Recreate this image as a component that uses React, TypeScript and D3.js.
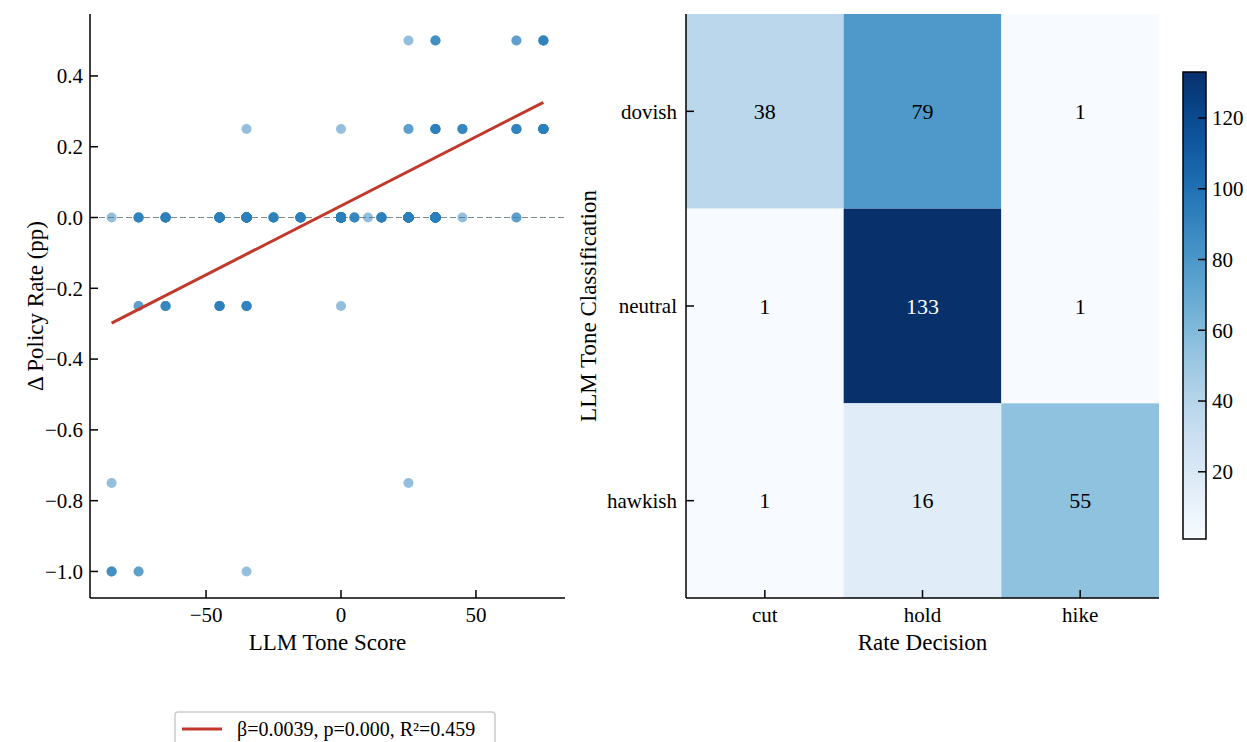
import React from "react";
import * as d3 from "d3";

// ---------- Scatter data (tone score, Δ policy rate, number of overlapping obs) ----------
const toneScores = [
  25, 35, 65, 75,
  -35, 0, 25, 35, 45, 65, 75,
  -85, -75, -65, -45, -35, -25, -15, 0, 5, 10, 15, 25, 35, 45, 65,
  -75, -65, -45, -35, 0,
  -85, 25,
  -85, -75, -35,
];
const rateChanges = [
  0.5, 0.5, 0.5, 0.5,
  0.25, 0.25, 0.25, 0.25, 0.25, 0.25, 0.25,
  0, 0, 0, 0, 0, 0, 0, 0, 0, 0, 0, 0, 0, 0, 0,
  -0.25, -0.25, -0.25, -0.25, -0.25,
  -0.75, -0.75,
  -1.0, -1.0, -1.0,
];
const obsCounts = [
  1, 3, 2, 5,
  1, 1, 2, 6, 4, 5, 12,
  1, 5, 8, 20, 25, 6, 10, 60, 4, 1, 8, 30, 40, 1, 2,
  2, 4, 6, 5, 1,
  1, 1,
  3, 2, 1,
];
const fitSlope = 0.0039;
const fitIntercept = 0.033;
const legendLabel = "β=0.0039, p=0.000, R²=0.459";
const scatterXTicks = [-50, 0, 50];
const scatterYTicks = [-1.0, -0.8, -0.6, -0.4, -0.2, 0.0, 0.2, 0.4];

// ---------- Heatmap data ----------
const rateDecisions = ["cut", "hold", "hike"];
const toneClasses = ["dovish", "neutral", "hawkish"];
const confusion = [
  [38, 79, 1],
  [1, 133, 1],
  [1, 16, 55],
];
const colorbarTicks = [20, 40, 60, 80, 100, 120];

const FONT = "'Liberation Serif', 'Times New Roman', Times, serif";
const TICK_FS = 21;
const LABEL_FS = 23;

export default function App() {
  // scatter geometry
  const sL = 90, sR = 565, sT = 14, sB = 598;
  const xs = d3.scaleLinear().domain([-93, 83]).range([sL, sR]);
  const ys = d3.scaleLinear().domain([-1.075, 0.575]).range([sB, sT]);
  const fmtY = d3.format(".1f");
  const fmtX = d3.format("d");
  const xMin = d3.min(toneScores) as number;
  const xMax = d3.max(toneScores) as number;

  // heatmap geometry
  const hL = 686, hR = 1159, hT = 14, hB = 598;
  const hx = d3.scaleBand().domain(rateDecisions).range([hL, hR]);
  const hy = d3.scaleBand().domain(toneClasses).range([hT, hB]);
  const flat = confusion.flat();
  const vMin = d3.min(flat) as number;
  const vMax = d3.max(flat) as number;
  const color = d3.scaleSequential(d3.interpolateBlues).domain([vMin, vMax]);

  // colorbar
  const cbX = 1183, cbW = 23, cbT = 72, cbB = 539;
  const cbScale = d3.scaleLinear().domain([vMin, vMax]).range([cbB, cbT]);
  const gradStops = d3.range(0, 1.0001, 0.05);

  const points: { x: number; y: number; k: string }[] = [];
  toneScores.forEach((t, i) => {
    for (let j = 0; j < obsCounts[i]; j++) {
      points.push({ x: t, y: rateChanges[i], k: `${i}-${j}` });
    }
  });

  return (
    <div style={{ position: "absolute", left: 0, top: 0 }}>
      <svg width={1247} height={742} style={{ display: "block", background: "#fff" }} fontFamily={FONT}>
        <defs>
          <linearGradient id="cbGrad" x1="0" y1="1" x2="0" y2="0">
            {gradStops.map((s) => (
              <stop key={s} offset={`${s * 100}%`} stopColor={d3.interpolateBlues(s)} />
            ))}
          </linearGradient>
        </defs>

        {/* ---------------- Scatter ---------------- */}
        <line
          x1={sL} x2={sR} y1={ys(0)} y2={ys(0)}
          stroke="#7f8c8d" strokeWidth={1.2} strokeDasharray="6,3"
        />
        {points.map((p) => (
          <circle key={p.k} cx={xs(p.x)} cy={ys(p.y)} r={5} fill="#2980b9" fillOpacity={0.5} />
        ))}
        <line
          x1={xs(xMin)} x2={xs(xMax)}
          y1={ys(fitIntercept + fitSlope * xMin)} y2={ys(fitIntercept + fitSlope * xMax)}
          stroke="#c0392b" strokeWidth={3}
        />
        {/* spines */}
        <line x1={sL} x2={sL} y1={sT} y2={sB} stroke="#000" strokeWidth={1.5} />
        <line x1={sL} x2={sR} y1={sB} y2={sB} stroke="#000" strokeWidth={1.5} />
        {scatterYTicks.map((t) => (
          <g key={`yt${t}`}>
            <line x1={sL} x2={sL + 8} y1={ys(t)} y2={ys(t)} stroke="#000" strokeWidth={1.5} />
            <text x={sL - 7} y={ys(t)} dy="0.35em" textAnchor="end" fontSize={TICK_FS}>
              {fmtY(t)}
            </text>
          </g>
        ))}
        {scatterXTicks.map((t) => (
          <g key={`xt${t}`}>
            <line x1={xs(t)} x2={xs(t)} y1={sB} y2={sB - 8} stroke="#000" strokeWidth={1.5} />
            <text x={xs(t)} y={622} textAnchor="middle" fontSize={TICK_FS}>
              {fmtX(t)}
            </text>
          </g>
        ))}
        <text x={(sL + sR) / 2} y={650} textAnchor="middle" fontSize={LABEL_FS}>
          LLM Tone Score
        </text>
        <text
          transform={`translate(43, ${(sT + sB) / 2}) rotate(-90)`}
          textAnchor="middle" fontSize={LABEL_FS}
        >
          Δ Policy Rate (pp)
        </text>

        {/* legend */}
        <rect x={175} y={712} width={320} height={40} rx={3} fill="#fff" stroke="#cccccc" strokeWidth={1.5} />
        <line x1={182} x2={222} y1={729} y2={729} stroke="#c0392b" strokeWidth={3} />
        <text x={237} y={736} fontSize={20}>{legendLabel}</text>

        {/* ---------------- Heatmap ---------------- */}
        {toneClasses.map((row, ri) =>
          rateDecisions.map((col, ci) => {
            const v = confusion[ri][ci];
            return (
              <g key={`${row}-${col}`}>
                <rect
                  x={hx(col)} y={hy(row)} width={hx.bandwidth()} height={hy.bandwidth()}
                  fill={color(v)}
                />
                <text
                  x={(hx(col) as number) + hx.bandwidth() / 2}
                  y={(hy(row) as number) + hy.bandwidth() / 2}
                  dy="0.35em" textAnchor="middle" fontSize={22}
                  fill={v > (vMin + vMax) / 2 + 30 ? "#fff" : "#000"}
                >
                  {v}
                </text>
              </g>
            );
          })
        )}
        <line x1={hL} x2={hL} y1={hT} y2={hB} stroke="#000" strokeWidth={1.5} />
        <line x1={hL} x2={hR} y1={hB} y2={hB} stroke="#000" strokeWidth={1.5} />
        {toneClasses.map((row) => {
          const cy = (hy(row) as number) + hy.bandwidth() / 2;
          return (
            <g key={`hy${row}`}>
              <line x1={hL} x2={hL + 8} y1={cy} y2={cy} stroke="#000" strokeWidth={1.5} />
              <text x={hL - 9} y={cy} dy="0.35em" textAnchor="end" fontSize={TICK_FS}>
                {row}
              </text>
            </g>
          );
        })}
        {rateDecisions.map((col) => {
          const cx = (hx(col) as number) + hx.bandwidth() / 2;
          return (
            <g key={`hx${col}`}>
              <line x1={cx} x2={cx} y1={hB} y2={hB - 8} stroke="#000" strokeWidth={1.5} />
              <text x={cx} y={622} textAnchor="middle" fontSize={TICK_FS}>
                {col}
              </text>
            </g>
          );
        })}
        <text x={(hL + hR) / 2} y={650} textAnchor="middle" fontSize={LABEL_FS}>
          Rate Decision
        </text>
        <text
          transform={`translate(596, ${(hT + hB) / 2}) rotate(-90)`}
          textAnchor="middle" fontSize={LABEL_FS}
        >
          LLM Tone Classification
        </text>

        {/* colorbar */}
        <rect x={cbX} y={cbT} width={cbW} height={cbB - cbT} fill="url(#cbGrad)" stroke="#000" strokeWidth={1.5} />
        {colorbarTicks.map((t) => (
          <g key={`cb${t}`}>
            <line x1={cbX + cbW - 8} x2={cbX + cbW} y1={cbScale(t)} y2={cbScale(t)} stroke="#000" strokeWidth={1.5} />
            <text x={cbX + cbW + 6} y={cbScale(t)} dy="0.35em" fontSize={TICK_FS}>
              {t}
            </text>
          </g>
        ))}
      </svg>
    </div>
  );
}
